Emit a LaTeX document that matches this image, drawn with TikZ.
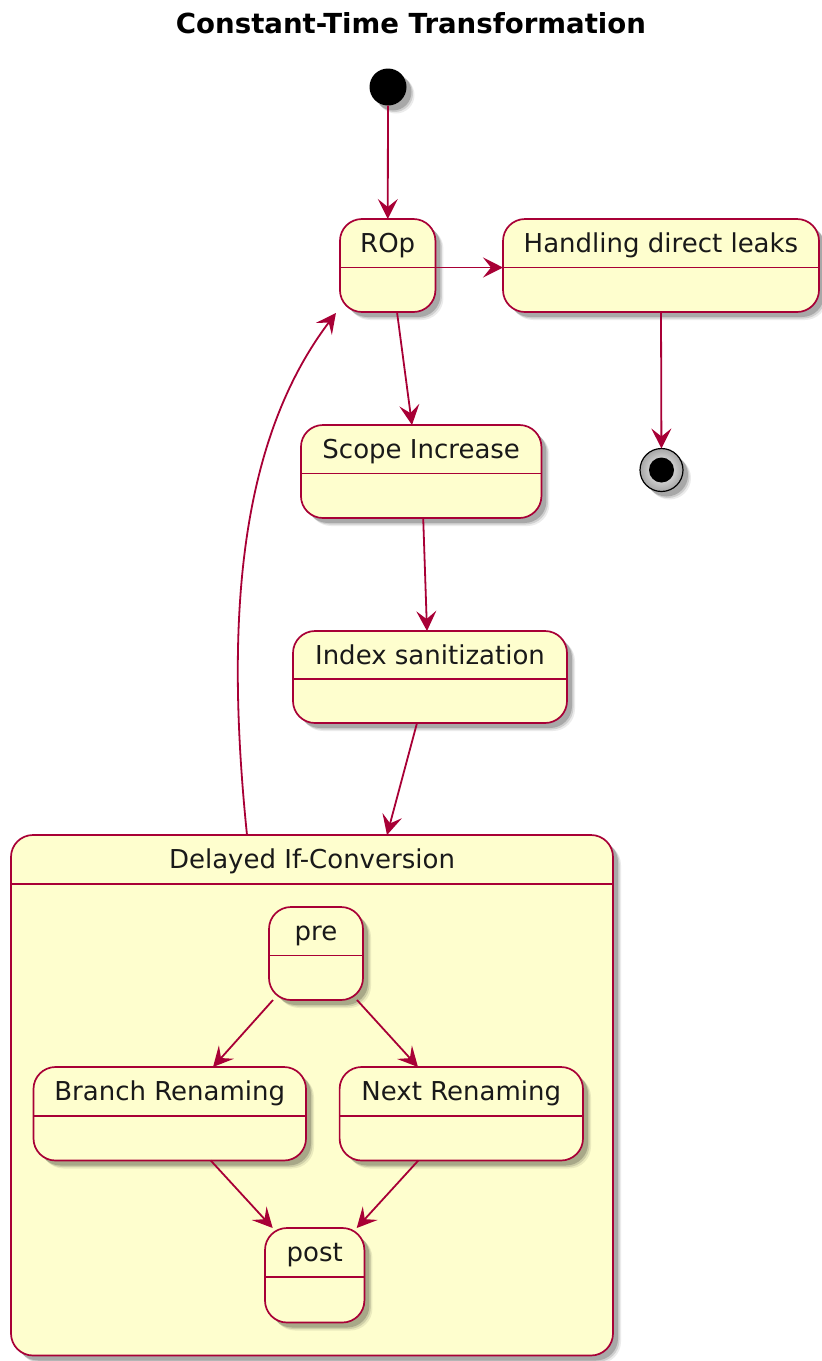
\documentclass[tikz,border=0pt]{standalone}
\usepackage{fontspec}
\setmainfont{DejaVu Sans}
\usetikzlibrary{arrows.meta}
\definecolor{umlborder}{HTML}{A80036}
\definecolor{umlfill}{HTML}{FEFECE}
\tikzset{
  softshadow/.style={
    preaction={fill=black, fill opacity=.08, draw=none, transform canvas={xshift=8pt,yshift=-8pt}},
    preaction={fill=black, fill opacity=.12, draw=none, transform canvas={xshift=6.5pt,yshift=-6.5pt}},
    preaction={fill=black, fill opacity=.18, draw=none, transform canvas={xshift=5pt,yshift=-5pt}}},
  statebox/.style={draw=umlborder, fill=umlfill, line width=1.7pt, rounded corners=22pt,
    inner sep=0pt, outer sep=0pt, softshadow},
  statelabel/.style={anchor=base, inner sep=0pt, text=black!90, font=\fontsize{26}{30}\selectfont},
  titletext/.style={anchor=base, inner sep=0pt, text=black, font=\fontsize{27.6}{32}\selectfont\bfseries},
  divider/.style={draw=umlborder, line width=1.7pt},
  trans/.style={draw=umlborder, line width=1.8pt, -{Stealth[length=20pt,width=20pt,inset=8pt]}},
  startdot/.style={circle, fill=black, draw=none, minimum size=37pt, inner sep=0pt, outer sep=0pt, softshadow},
  endring/.style={circle, draw=black, line width=1.2pt, inner color=white, outer color=black!35,
    minimum size=43pt, inner sep=0pt, outer sep=0pt, softshadow},
  enddotst/.style={circle, fill=black, draw=none, minimum size=25pt, inner sep=0pt},
}
\newcommand\umlstate[8]{%
  \node[statebox, minimum width=#4pt, minimum height=#5pt] (#1) at (#2,#3) {};
  \node[statelabel] (#1-label) at (#2,#6) {#8};
  \coordinate (#1-dw) at (#1.west |- 0,#7);
  \coordinate (#1-de) at (#1.east |- 0,#7);
  \draw[divider] (#1-dw) -- (#1-de);
}
\begin{document}
\begin{tikzpicture}[x=1pt,y=-1pt]
\fill[white] (0,0) rectangle (822,1361);
\useasboundingbox (0,0) rectangle (822,1361);

\node[titletext] (title) at (411,33) {Constant-Time Transformation};

\node[startdot] (start) at (388,87) {};
\node[endring] (endst) at (661.5,470) {};
\node[enddotst] (enddot) at (endst) {};

\umlstate{rop}{387.7}{265.5}{95.5}{93}{252}{267.5}{ROp}
\umlstate{leaks}{661}{265.5}{316}{93}{252}{267.5}{Handling direct leaks}
\umlstate{scope}{421.2}{471.5}{240.5}{93}{458}{473.5}{Scope Increase}
\umlstate{index}{430}{677}{274}{92}{664}{679}{Index sanitization}
\umlstate{delayed}{312}{1095.25}{602}{520.5}{868}{884}{Delayed If-Conversion}
\umlstate{pre}{316}{953.5}{94}{93}{940}{955.5}{pre}
\umlstate{branch}{169.75}{1113.75}{272.5}{93.5}{1100}{1116}{Branch Renaming}
\umlstate{next}{461.3}{1113.75}{243.4}{93.5}{1100}{1116}{Next Renaming}
\umlstate{post}{314.7}{1275.25}{99.4}{94.5}{1261}{1277}{post}

\draw[trans] (start) -- (rop);
\draw[trans] (rop-de) -- (leaks-dw);
\draw[trans] ([xshift=9.3pt]rop.south) -- ([xshift=-9.2pt]scope.north);
\draw[trans] (leaks.south) -- (endst);
\draw[trans] ([xshift=2pt]scope.south) -- ([xshift=-3pt]index.north);
\draw[trans] ([xshift=-13pt]index.south) -- ([xshift=75pt]delayed.north);
\draw[trans] ([xshift=-65pt]delayed.north) .. controls (226,630) and (236,445) .. ([xshift=-4pt,yshift=-1pt]rop.south west);
\draw[trans] ([xshift=4pt]pre.south west) -- ([xshift=43.25pt]branch.north);
\draw[trans] ([xshift=-6pt]pre.south east) -- ([xshift=-43.3pt]next.north);
\draw[trans] ([xshift=41pt]branch.south) -- ([xshift=-42pt]post.north);
\draw[trans] ([xshift=-43pt]next.south) -- ([xshift=42pt]post.north);
\end{tikzpicture}
\end{document}
